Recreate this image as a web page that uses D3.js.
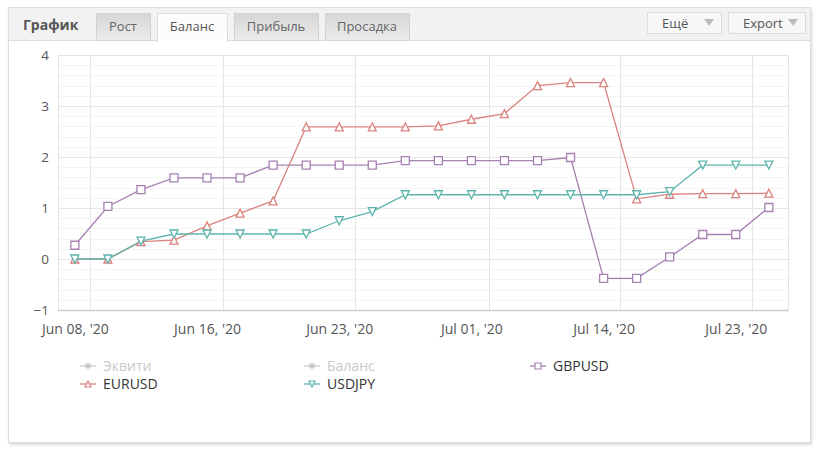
<!DOCTYPE html>
<html>
<head>
<meta charset="utf-8">
<script src="https://cdn.jsdelivr.net/npm/d3@7"></script>
<style>
  body { margin: 0; background: #fff; }
  text { font-family: "Open Sans", "DejaVu Sans", sans-serif; }
</style>
</head>
<body>
<div id="chart"></div>
<script>
// data (points are evenly spaced, ordinal x axis)
const eurusd = [0, 0, 0.34, 0.37, 0.65, 0.9, 1.14, 2.59, 2.59, 2.59, 2.59, 2.61, 2.74, 2.85, 3.4, 3.46, 3.46, 1.18, 1.27, 1.28, 1.28, 1.29]
const usdjpy = [0, 0, 0.35, 0.49, 0.49, 0.49, 0.49, 0.49, 0.75, 0.93, 1.26, 1.26, 1.26, 1.26, 1.26, 1.26, 1.26, 1.26, 1.32, 1.84, 1.84, 1.84]
const gbpusd = [0.27, 1.03, 1.36, 1.59, 1.59, 1.59, 1.84, 1.84, 1.84, 1.84, 1.93, 1.93, 1.93, 1.93, 1.93, 1.99, -0.38, -0.38, 0.04, 0.48, 0.48, 1.01]
const xGridPos = [0.46, 4.48, 8.48, 12.52, 16.5, 20.5]
const xLabelPos = [0, 4, 8, 12, 16, 20]
const xTickLabels = ["Jun 08, '20", "Jun 16, '20", "Jun 23, '20", "Jul 01, '20", "Jul 14, '20", "Jul 23, '20"]
const yTicks = [-1, 0, 1, 2, 3, 4]
const tabs = ["Рост", "Баланс", "Прибыль", "Просадка"]

const colors = { eur: "#d9837f", jpy: "#5db5ae", gbp: "#a680b1", off: "#cccccc" }

const width = 823
const height = 457
const plot = { left: 58, right: 788, top: 55, bottom: 310 }

const svg = d3.select("#chart").append("svg")
  .attr("width", width)
  .attr("height", height)

const defs = svg.append("defs")
const shadow = defs.append("filter").attr("id", "shadow")
  .attr("x", "-5%").attr("y", "-5%").attr("width", "110%").attr("height", "110%")
shadow.append("feDropShadow")
  .attr("dx", 1).attr("dy", 2).attr("stdDeviation", 1.5)
  .attr("flood-color", "#000").attr("flood-opacity", 0.15)
const tabGrad = defs.append("linearGradient").attr("id", "tabGrad")
  .attr("x1", 0).attr("y1", 0).attr("x2", 0).attr("y2", 1)
tabGrad.append("stop").attr("offset", "0%").attr("stop-color", "#d6d6d6")
tabGrad.append("stop").attr("offset", "100%").attr("stop-color", "#ececec")

// frame
svg.append("rect")
  .attr("x", 8.5).attr("y", 7.5).attr("width", 802).attr("height", 435)
  .attr("fill", "#fff").attr("stroke", "#dcdcdc")
  .attr("filter", "url(#shadow)")
svg.append("rect")
  .attr("x", 9).attr("y", 8).attr("width", 801).attr("height", 32)
  .attr("fill", "#f2f2f2")
svg.append("line")
  .attr("x1", 9).attr("x2", 810).attr("y1", 40.5).attr("y2", 40.5)
  .attr("stroke", "#dedede")

svg.append("text")
  .attr("x", 23).attr("y", 30)
  .attr("font-size", 14).attr("font-weight", "bold").attr("fill", "#555")
  .text("График")

const tabX = [96, 157, 234, 325]
const tabW = [54, 70, 84, 84]
tabs.forEach((t, i) => {
  const active = i === 1
  svg.append("rect")
    .attr("x", tabX[i] + 0.5).attr("y", 13.5)
    .attr("width", tabW[i]).attr("height", active ? 28 : 27)
    .attr("fill", active ? "#fcfcfc" : "url(#tabGrad)")
    .attr("stroke", active ? "#dcdcdc" : "#d2d2d2")
  svg.append("text")
    .attr("x", tabX[i] + tabW[i] / 2).attr("y", 31)
    .attr("text-anchor", "middle")
    .attr("font-size", 13).attr("fill", active ? "#555" : "#666")
    .text(t)
})
// hide the bottom edge of the active tab
svg.append("rect").attr("x", 158).attr("y", 39).attr("width", 69).attr("height", 3).attr("fill", "#fff")

const btns = [{ x: 647, w: 74, label: "Ещё" }, { x: 728, w: 77, label: "Export" }]
btns.forEach(b => {
  svg.append("rect")
    .attr("x", b.x + 0.5).attr("y", 12.5).attr("width", b.w).attr("height", 21)
    .attr("fill", "#f7f7f7").attr("stroke", "#dcdcdc")
  svg.append("text")
    .attr("x", b.x + 15).attr("y", 28)
    .attr("font-size", 13).attr("fill", "#555")
    .text(b.label)
  const ax = b.x + b.w - 12
  svg.append("path")
    .attr("d", `M${ax - 5},19 L${ax + 5},19 L${ax},26 Z`)
    .attr("fill", "#bbb")
})

// scales
const xScale = d3.scaleLinear()
  .domain([-0.51, 21.58])
  .range([plot.left, plot.right])
const yScale = d3.scaleLinear()
  .domain([-1, 4])
  .range([plot.bottom, plot.top])

const bounds = svg.append("g")

// minor grid
const minor = d3.range(-1, 4.001, 0.2).filter(v => Math.abs(v - Math.round(v)) > 0.01)
bounds.selectAll(".minor").data(minor).join("line")
  .attr("x1", plot.left).attr("x2", plot.right)
  .attr("y1", d => Math.round(yScale(d)) + 0.5).attr("y2", d => Math.round(yScale(d)) + 0.5)
  .attr("stroke", "#f4f4f4")
// major grid
bounds.selectAll(".major").data(yTicks).join("line")
  .attr("x1", plot.left).attr("x2", plot.right)
  .attr("y1", d => Math.round(yScale(d)) + 0.5).attr("y2", d => Math.round(yScale(d)) + 0.5)
  .attr("stroke", "#e6e6e6")
bounds.selectAll(".vgrid").data(xGridPos).join("line")
  .attr("x1", d => Math.round(xScale(d)) + 0.5).attr("x2", d => Math.round(xScale(d)) + 0.5)
  .attr("y1", plot.top).attr("y2", plot.bottom)
  .attr("stroke", "#e6e6e6")

// plot border
bounds.append("rect")
  .attr("x", plot.left + 0.5).attr("y", plot.top + 0.5)
  .attr("width", plot.right - plot.left).attr("height", plot.bottom - plot.top)
  .attr("fill", "none").attr("stroke", "#e4e4e4")
bounds.append("line")
  .attr("x1", plot.left).attr("x2", plot.right)
  .attr("y1", plot.bottom + 0.5).attr("y2", plot.bottom + 0.5)
  .attr("stroke", "#c8cdd8").attr("stroke-width", 1.5)

// axes
const yAxis = bounds.append("g")
  .attr("transform", `translate(${plot.left - 6},0)`)
  .call(d3.axisLeft(yScale).tickValues(yTicks).tickSize(0).tickFormat(d => d < 0 ? "−" + (-d) : d))
yAxis.select(".domain").remove()
yAxis.selectAll("text")
  .attr("font-family", '"Open Sans", "DejaVu Sans", sans-serif')
  .attr("font-size", 13.5).attr("fill", "#555").attr("dy", "0.32em")

const xAxis = bounds.append("g")
  .attr("transform", `translate(0,${plot.bottom + 7})`)
  .call(d3.axisBottom(xScale).tickValues(xLabelPos).tickSize(0).tickFormat((d, i) => xTickLabels[i]))
xAxis.select(".domain").remove()
xAxis.selectAll("text")
  .attr("font-family", '"Open Sans", "DejaVu Sans", sans-serif')
  .attr("font-size", 14).attr("fill", "#555").attr("dy", "1em")

// series
const series = [
  { name: "GBPUSD", values: gbpusd, color: colors.gbp, marker: "square" },
  { name: "EURUSD", values: eurusd, color: colors.eur, marker: "triangle" },
  { name: "USDJPY", values: usdjpy, color: colors.jpy, marker: "triangle-down" },
]

const lineGen = d3.line()
  .x((d, i) => xScale(i))
  .y(d => yScale(d))

function markerPath(type, s) {
  if (type === "square") return `M${-s},${-s}h${2 * s}v${2 * s}h${-2 * s}Z`
  if (type === "triangle") return `M0,${-s}L${s},${s}L${-s},${s}Z`
  if (type === "triangle-down") return `M${-s},${-s}L${s},${-s}L0,${s}Z`
  return ""
}

series.forEach(s => {
  bounds.append("path")
    .attr("d", lineGen(s.values))
    .attr("fill", "none")
    .attr("stroke", s.color)
    .attr("stroke-width", 1.3)
})
series.forEach(s => {
  bounds.selectAll(null).data(s.values).join("path")
    .attr("transform", (d, i) => `translate(${xScale(i)},${yScale(d)})`)
    .attr("d", markerPath(s.marker, 4))
    .attr("fill", "#fff")
    .attr("stroke", s.color)
    .attr("stroke-width", 1.3)
})

// legend
const legendItems = [
  { name: "Эквити", color: colors.off, marker: "circle", x: 80, y: 366, off: true },
  { name: "Баланс", color: colors.off, marker: "circle", x: 304, y: 366, off: true },
  { name: "GBPUSD", color: colors.gbp, marker: "square", x: 530, y: 366 },
  { name: "EURUSD", color: colors.eur, marker: "triangle", x: 80, y: 384 },
  { name: "USDJPY", color: colors.jpy, marker: "triangle-down", x: 304, y: 384 },
]
const legend = svg.append("g")
legendItems.forEach(it => {
  const g = legend.append("g").attr("transform", `translate(${it.x},${it.y})`)
  g.append("line").attr("x1", 0).attr("x2", 16).attr("y1", 0).attr("y2", 0)
    .attr("stroke", it.color).attr("stroke-width", 1.3)
  if (it.marker === "circle") {
    g.append("circle").attr("cx", 8).attr("cy", 0).attr("r", 2.8).attr("fill", it.color)
  } else {
    g.append("path").attr("transform", "translate(8,0)")
      .attr("d", markerPath(it.marker, 3))
      .attr("fill", "#fff").attr("stroke", it.color).attr("stroke-width", 1.2)
  }
  g.append("text")
    .attr("x", 23).attr("y", 5)
    .attr("font-size", 14)
    .attr("fill", it.off ? "#c8c8c8" : "#333")
    .text(it.name)
})
</script>
</body>
</html>
